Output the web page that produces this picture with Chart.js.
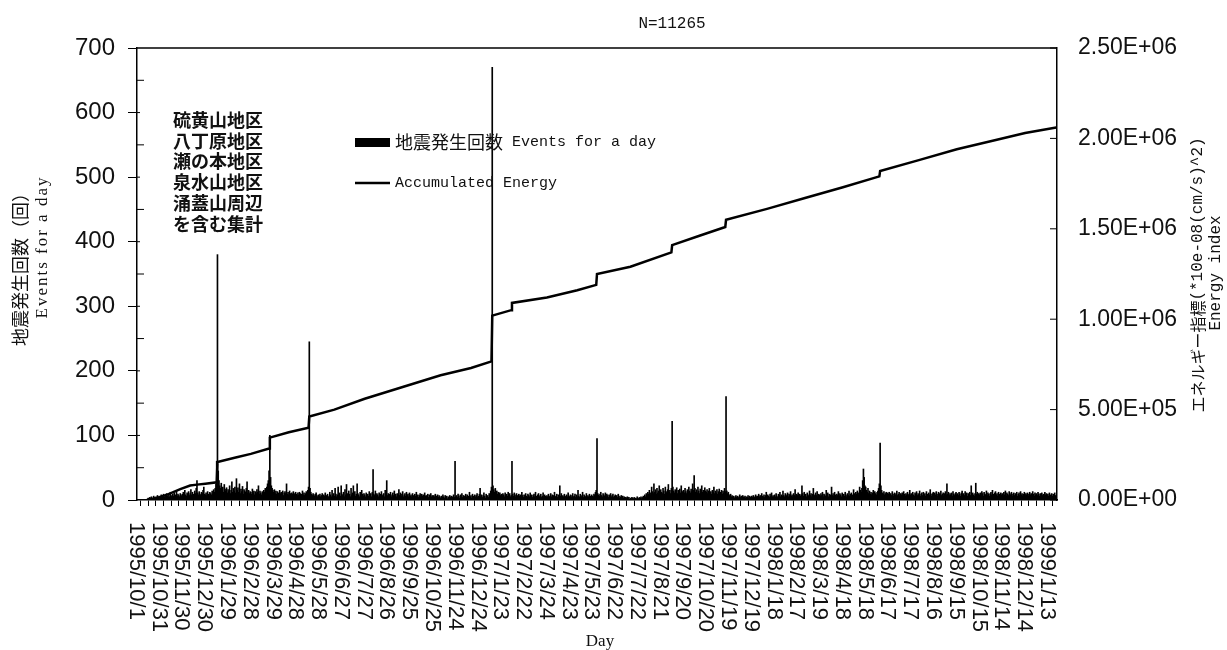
<!DOCTYPE html>
<html>
<head>
<meta charset="utf-8">
<script src="https://cdn.jsdelivr.net/npm/chart.js@4.4.1/dist/chart.umd.min.js"></script>
<style>
body { margin: 0; background: #fff; }
</style>
</head>
<body>
<canvas id="myChart" width="1227" height="650"></canvas>
<script>
// day 0 = 1995/10/1, one label every 30 days
var dateLabels = ['1995/10/1', '1995/10/31', '1995/11/30', '1995/12/30', '1996/1/29', '1996/2/28', '1996/3/29',
    '1996/4/28', '1996/5/28', '1996/6/27', '1996/7/27', '1996/8/26', '1996/9/25', '1996/10/25', '1996/11/24',
    '1996/12/24', '1997/1/23', '1997/2/22', '1997/3/24', '1997/4/23', '1997/5/23', '1997/6/22', '1997/7/22',
    '1997/8/21', '1997/9/20', '1997/10/20', '1997/11/19', '1997/12/19', '1998/1/18', '1998/2/17', '1998/3/19',
    '1998/4/18', '1998/5/18', '1998/6/17', '1998/7/17', '1998/8/16', '1998/9/15', '1998/10/15', '1998/11/14',
    '1998/12/14', '1999/1/13'];

// events per day, one row per 30 day label interval
var events = [
    0,0,0,0,0,0,0,0,0,0,0,0,0,0,2,3,1,4,2,5,3,2,6,4,3,5,2,7,4,3,
    5,3,8,4,6,9,5,3,7,10,6,4,8,5,12,7,4,9,6,11,5,8,14,6,9,7,5,10,8,6,
    9,12,7,15,8,6,11,9,13,7,10,16,8,12,9,6,14,10,18,30,11,8,13,9,7,12,10,15,20,9,
    8,11,7,13,9,6,12,10,8,14,9,16,12,18,25,60,380,45,30,22,18,26,15,20,12,24,17,14,19,11,
    16,13,22,10,15,28,12,18,14,20,11,33,15,19,12,25,10,17,13,21,9,16,14,12,18,28,11,15,10,13,
    12,9,17,11,14,8,13,10,16,12,22,9,14,11,8,13,10,15,12,18,14,20,25,30,45,100,35,22,18,15,
    12,16,10,14,9,13,11,8,15,10,12,9,14,7,11,13,10,25,9,12,8,14,10,7,11,9,13,8,10,12,
    9,7,11,8,12,10,6,9,14,8,11,7,10,13,9,15,20,245,18,12,9,7,10,8,6,9,11,7,5,8,
    6,9,5,7,10,4,8,6,11,5,7,9,4,6,12,8,5,15,7,10,6,18,9,5,8,20,7,11,6,22,
    9,7,12,5,16,8,24,10,6,14,9,5,18,8,11,22,7,13,6,9,25,10,8,5,12,7,15,9,6,10,
    8,5,11,7,9,6,13,8,10,5,12,47,9,7,14,6,10,8,5,11,7,9,13,6,8,10,5,15,9,30,
    7,10,6,9,12,5,8,11,7,14,6,9,5,10,8,16,7,11,6,9,13,5,8,10,6,12,7,9,5,11,
    6,8,5,10,7,4,9,6,12,5,8,4,7,10,5,9,6,8,4,11,6,7,5,9,4,8,6,10,5,7,
    4,7,5,9,3,6,8,4,7,5,3,6,4,8,5,3,7,4,6,2,5,3,7,4,6,3,5,8,4,60,
    5,7,4,9,6,3,8,5,10,4,7,6,3,9,5,8,4,6,12,5,7,3,9,6,4,8,5,7,10,4,
    6,9,18,5,8,4,7,11,6,3,9,5,7,4,10,8,14,20,670,22,16,12,18,10,14,9,12,8,11,7,
    9,6,10,8,5,11,7,9,6,12,8,10,5,7,60,9,6,11,8,5,10,7,4,9,6,8,5,12,7,4,
    8,5,10,6,4,9,7,5,11,6,8,4,7,9,5,12,6,4,8,10,5,7,9,4,6,11,5,8,6,4,
    7,5,9,4,6,10,5,8,4,7,12,5,6,9,4,8,5,22,6,10,4,7,5,9,6,4,8,5,11,6,
    5,8,4,7,10,5,6,9,4,8,5,15,6,4,9,7,5,12,4,8,6,5,10,4,7,5,9,6,4,8,
    6,5,9,7,12,15,95,10,8,6,9,12,7,5,10,8,6,11,5,9,7,4,8,6,10,5,7,9,4,6,
    8,5,7,4,9,6,3,5,7,4,6,3,5,2,4,3,5,2,4,1,3,2,4,3,2,4,1,3,2,5,
    3,2,4,3,5,2,4,6,3,8,5,10,7,12,9,15,11,8,20,13,10,25,12,16,9,18,11,14,22,13,
    16,12,10,18,14,9,20,13,11,16,24,12,15,10,18,122,20,14,11,16,12,19,10,15,13,17,11,22,14,12,
    15,11,18,13,10,16,12,20,14,11,17,13,25,15,38,18,12,16,11,20,14,10,17,13,22,12,15,11,19,14,
    12,16,10,14,18,11,13,9,15,12,20,10,14,11,16,9,13,17,10,12,15,9,14,11,18,13,160,14,10,12,
    8,6,9,5,7,4,6,3,5,7,4,6,3,5,8,4,6,3,7,5,4,6,3,5,4,7,3,6,4,5,
    6,4,7,5,3,8,5,6,4,9,5,7,4,10,6,5,8,4,7,12,5,8,6,4,9,6,11,5,7,4,
    8,5,10,6,4,9,7,12,5,8,6,14,7,5,10,8,6,11,5,9,7,13,6,8,5,10,7,16,6,9,
    7,11,5,9,6,8,22,10,6,12,7,9,5,11,8,6,14,7,10,5,9,18,8,6,11,7,13,5,9,8,
    6,10,7,12,5,9,8,6,15,7,11,5,9,6,8,20,7,10,6,12,8,5,9,7,13,6,10,8,5,11,
    7,9,6,12,8,5,10,7,14,6,9,11,7,8,16,10,6,12,9,14,11,8,20,15,12,18,30,48,35,22,
    20,15,12,18,10,14,9,12,8,11,15,9,13,10,8,12,14,18,25,88,22,15,11,9,13,8,10,12,7,11,
    9,12,8,10,7,13,9,6,11,8,10,14,7,9,12,6,10,8,11,7,13,9,6,10,8,12,7,9,15,8,
    10,7,12,8,6,11,9,13,7,10,8,14,6,9,11,7,12,8,10,6,13,9,7,11,8,16,9,6,10,12,
    7,11,8,13,9,6,12,10,8,14,7,9,11,6,10,13,8,25,9,12,7,10,8,11,6,13,9,7,10,12,
    8,10,7,12,9,6,11,14,8,10,7,13,9,11,6,10,8,12,7,22,9,11,8,6,10,26,9,12,7,10,
    8,11,7,13,10,6,12,9,8,14,7,11,9,6,10,12,8,15,9,7,11,13,8,10,6,12,9,7,11,8,
    10,7,12,8,14,6,11,9,7,13,10,8,12,6,9,11,7,10,8,12,6,9,11,7,13,8,10,6,9,12,
    7,10,8,11,6,9,12,8,10,7,13,9,6,11,8,10,7,12,9,6,10,8,11,7,9,6,12,8,10,7,
    9,6,11,8,7,10,6,9,8,11,7,5
];

// accumulated energy, read at the corners of the line
var energyDays = [14, 25, 40, 57, 70, 79, 90, 105, 106, 130, 150, 174, 175, 200, 226, 227, 260, 300, 350, 400,
    440, 467, 468, 493, 494, 540, 580, 605, 606, 650, 704, 705, 740, 775, 776, 830, 880, 930, 978, 979,
    1030, 1080, 1130, 1170, 1211];
var energyValues = [0, 10000, 30000, 60000, 80000, 85000, 90000, 98000, 210000, 235000, 255000, 285000, 345000,
    375000, 400000, 462000, 500000, 560000, 625000, 690000, 730000, 767000, 1020000, 1050000, 1090000,
    1120000, 1160000, 1190000, 1250000, 1290000, 1370000, 1410000, 1460000, 1510000, 1550000, 1610000,
    1670000, 1730000, 1790000, 1820000, 1880000, 1940000, 1990000, 2030000, 2060000];

var areaNotes = ['硫黄山地区', '八丁原地区', '瀬の本地区', '泉水山地区', '涌蓋山周辺', 'を含む集計'];

var cjk = '"Noto Sans CJK JP"';
var mono = '"Liberation Mono", "Noto Sans CJK JP"';
var serif = '"Liberation Serif", "Noto Sans CJK JP"';
var ink = '#111';

function sci(v) {
    if (v === 0) return '0.00E+00';
    var e = Math.floor(Math.log10(v));
    var m = v / Math.pow(10, e);
    return m.toFixed(2) + 'E+' + (e < 10 ? '0' : '') + e;
}

// draw text made of pieces with different fonts, left to right
function drawParts(c, parts, x, y) {
    parts.forEach(function(p) {
        c.font = p[1];
        c.fillText(p[0], x, y);
        x += c.measureText(p[0]).width;
    });
}

// rotated text reading bottom to top, centred on cy
function vText(c, parts, cx, cy) {
    var w = 0;
    parts.forEach(function(p) { c.font = p[1]; w += c.measureText(p[0]).width; });
    c.save();
    c.translate(cx, cy);
    c.rotate(-Math.PI / 2);
    drawParts(c, parts, -w / 2, 0);
    c.restore();
}

var extras = {
    id: 'extras',
    afterDraw: function(chart) {
        var c = chart.ctx, a = chart.chartArea;
        var xs = chart.scales.x, ys = chart.scales.y, ys1 = chart.scales.y1;
        var v, py;
        c.save();
        c.strokeStyle = '#000';
        c.fillStyle = ink;

        // top frame line
        c.lineWidth = 1.5;
        c.beginPath(); c.moveTo(a.left, a.top); c.lineTo(a.right, a.top); c.stroke();

        // minor ticks inside left axis, right axis ticks pointing in
        c.lineWidth = 1;
        for (v = 50; v < 700; v += 100) {
            py = ys.getPixelForValue(v);
            c.beginPath(); c.moveTo(a.left, py); c.lineTo(a.left + 7, py); c.stroke();
        }
        for (v = 100; v < 700; v += 100) {
            py = ys.getPixelForValue(v);
            c.beginPath(); c.moveTo(a.left, py); c.lineTo(a.left + 3, py); c.stroke();
        }
        for (v = 0; v <= 2500000; v += 500000) {
            py = ys1.getPixelForValue(v);
            c.beginPath(); c.moveTo(a.right - 7, py); c.lineTo(a.right, py); c.stroke();
        }

        // date labels, turned clockwise so they read downwards
        c.font = '22px "Liberation Sans"';
        c.textAlign = 'left';
        c.textBaseline = 'middle';
        dateLabels.forEach(function(lbl, i) {
            var px = xs.getPixelForValue(i * 30);
            c.save();
            c.translate(px - 1, a.bottom + 22);
            c.rotate(Math.PI / 2);
            c.fillText(lbl, 0, 0);
            c.restore();
        });

        // axis titles
        vText(c, [['地震発生回数（回）', '18px ' + cjk]], 20, 265);
        c.letterSpacing = '2px';
        vText(c, [['Events for a day', '17px ' + serif]], 43, 247);
        c.letterSpacing = '0px';
        vText(c, [['エネルギー指標', '16px ' + cjk], ['(*10e-08(cm/s)^2)', '16px ' + mono]], 1198, 275);
        vText(c, [['Energy index', '16px ' + mono]], 1216, 273);

        c.textAlign = 'center';
        c.font = '17px ' + serif;
        c.fillText('Day', 600, 642);
        c.font = '16px ' + mono;
        c.fillText('N=11265', 672, 24);

        // legend
        c.textAlign = 'left';
        c.fillStyle = '#000';
        c.fillRect(355, 138, 35, 9);
        c.lineWidth = 2.5;
        c.beginPath(); c.moveTo(355, 183); c.lineTo(390, 183); c.stroke();
        c.fillStyle = ink;
        drawParts(c, [['地震発生回数', '18px ' + cjk], [' Events for a day', '15px ' + mono]], 395, 142);
        drawParts(c, [['Accumulated Energy', '15px ' + mono]], 395, 183);

        // note on the areas counted
        c.font = 'bold 18px ' + cjk;
        areaNotes.forEach(function(t, i) {
            c.fillText(t, 173, 120 + i * 20.8);
        });
        c.restore();
    }
};

var barData = events.map(function(v, i) { return {x: i, y: v}; });
var lineData = energyDays.map(function(d, i) { return {x: d, y: energyValues[i]}; });

var ctx = document.getElementById('myChart').getContext('2d');
var myChart = new Chart(ctx, {
    type: 'bar',
    data: {
        datasets: [{
            type: 'line',
            label: 'Accumulated Energy',
            data: lineData,
            yAxisID: 'y1',
            borderColor: '#000',
            borderWidth: 2.5,
            pointRadius: 0,
            fill: false,
            tension: 0
        }, {
            label: '地震発生回数 Events for a day',
            data: barData,
            yAxisID: 'y',
            backgroundColor: '#000',
            barThickness: 1
        }]
    },
    options: {
        responsive: false,
        animation: false,
        layout: { padding: { top: 48, left: 0, right: 0, bottom: 0 } },
        plugins: { legend: { display: false }, tooltip: { enabled: false } },
        scales: {
            x: {
                type: 'linear', min: 0, max: 1212, offset: false,
                ticks: { display: false, stepSize: 10, maxTicksLimit: 200 },
                grid: { drawOnChartArea: false, drawTicks: true, tickLength: 6, color: '#000' },
                border: { color: '#000', width: 1.5 },
                afterFit: function(s) { s.height = 150; }
            },
            y: {
                position: 'left', min: 0, max: 700,
                ticks: { stepSize: 100, color: ink, padding: 13, font: { family: 'Liberation Sans', size: 24 } },
                grid: { drawOnChartArea: false, tickLength: 9, color: '#000' },
                border: { color: '#000', width: 1.5 },
                afterFit: function(s) { s.width = 137; }
            },
            y1: {
                position: 'right', min: 0, max: 2500000,
                ticks: { stepSize: 500000, callback: sci, color: ink, padding: 21, font: { family: 'Liberation Sans', size: 23 } },
                grid: { drawOnChartArea: false, drawTicks: false },
                border: { color: '#000', width: 1.5 },
                afterFit: function(s) { s.width = 170; }
            }
        }
    },
    plugins: [extras]
});
</script>
</body>
</html>
